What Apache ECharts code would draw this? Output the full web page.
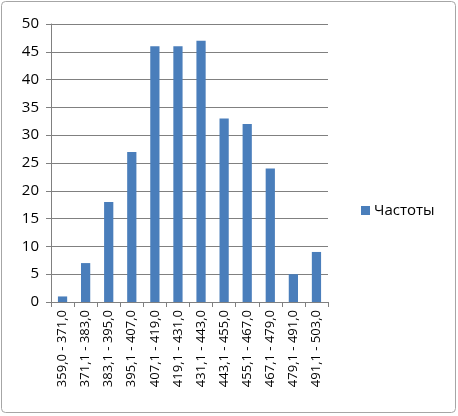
<!DOCTYPE html>
<html><head><meta charset="utf-8">
<script src="https://cdn.jsdelivr.net/npm/echarts@6/dist/echarts.min.js"></script>
<style>html,body{margin:0;padding:0;background:#fff}#c{width:458px;height:416px}</style>
</head><body><div id="c"></div>
<script>
const categories = ["359,0 - 371,0","371,1 - 383,0","383,1 - 395,0","395,1 - 407,0","407,1 - 419,0","419,1 - 431,0","431,1 - 443,0","443,1 - 455,0","455,1 - 467,0","467,1 - 479,0","479,1 - 491,0","491,1 - 503,0"];
const frequencies = [1,7,18,27,46,46,47,33,32,24,5,9];
const seriesName = "Частоты";
const chart = echarts.init(document.getElementById('c'), null, {renderer:'canvas'});
const font = '"Open Sans", "DejaVu Sans", sans-serif';
chart.setOption({
  animation:false,
  backgroundColor:'#fff',
  graphic:[{type:'rect',shape:{x:1.5,y:1.5,width:454,height:411,r:4},style:{fill:'none',stroke:'#a6a6a6',lineWidth:1}}],
  grid:{left:51,right:130,top:24,bottom:114},
  legend:{data:[seriesName],orient:'vertical',left:356,top:198,itemWidth:9,itemHeight:9,itemGap:4,icon:'rect',
    textStyle:{fontFamily:font,fontSize:15,color:'#000',padding:[0,0,0,-1]}},
  xAxis:{type:'category',data:categories,
    axisLine:{lineStyle:{color:'#808080'}},
    axisTick:{show:true,alignWithLabel:false,length:5,lineStyle:{color:'#808080'}},
    axisLabel:{rotate:90,fontFamily:font,fontSize:13,color:'#000',margin:8,interval:0}},
  yAxis:{type:'value',min:0,max:50,interval:5,
    axisLine:{show:true,lineStyle:{color:'#808080'}},
    axisTick:{show:true,length:5,lineStyle:{color:'#808080'}},
    splitLine:{lineStyle:{color:'#808080'}},
    axisLabel:{fontFamily:font,fontSize:15,color:'#000',margin:12}},
  series:[{name:seriesName,type:'bar',data:frequencies,barWidth:'40%',itemStyle:{color:'#4a7ebb'}}]
});
</script></body></html>
